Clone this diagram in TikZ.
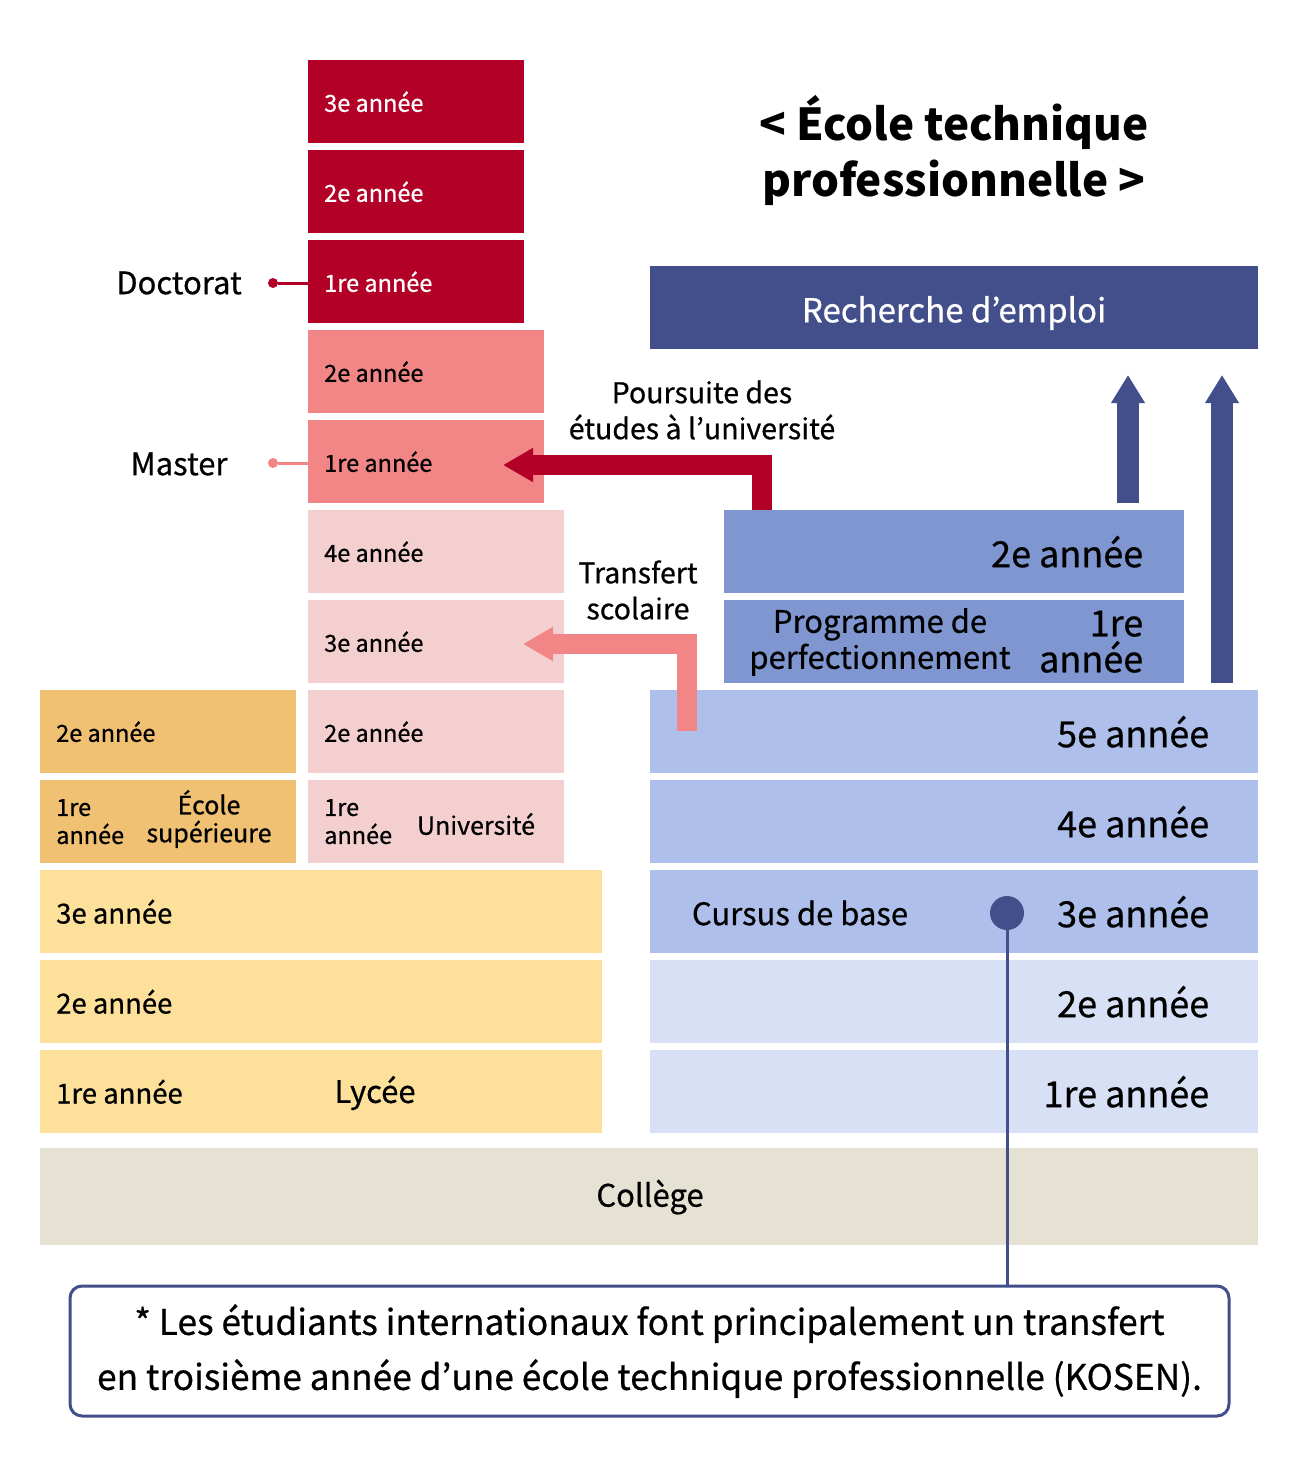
\documentclass[tikz,border=0pt]{standalone}
\usepackage{fontspec}
\setmainfont{Noto Sans CJK JP}[CharacterWidth=Proportional,UprightFeatures={FakeBold=0.6}]
\usetikzlibrary{positioning,arrows.meta}

\definecolor{docred}{HTML}{B30027}
\definecolor{mastpink}{HTML}{F28585}
\definecolor{unipink}{HTML}{F4CFD0}
\definecolor{supgold}{HTML}{F0C172}
\definecolor{lycyel}{HTML}{FDE19B}
\definecolor{colgrey}{HTML}{E6E2D3}
\definecolor{kosmid}{HTML}{AEBFEB}
\definecolor{koslight}{HTML}{D8E0F5}
\definecolor{advblue}{HTML}{7F96D0}
\definecolor{navy}{HTML}{434F8B}

\tikzset{
  yearbox/.style={rectangle,anchor=north west,inner sep=0pt,minimum height=83pt},
  smalltxt/.style={inner sep=0pt,font=\fontsize{23.5}{28}\selectfont,align=left},
  midtxt/.style={inner sep=0pt,font=\fontsize{31}{36}\selectfont,align=center},
  bigtxt/.style={inner sep=0pt,font=\fontsize{36}{36}\selectfont,align=right},
  flowarrow/.style={line width=20pt,-{Triangle[width=32pt,length=30pt]}},
  uparrow/.style={navy,line width=22pt,-{Triangle[width=32pt,length=28pt]}}
}

\begin{document}
\begin{tikzpicture}[x=1pt,y=-1pt]
    \useasboundingbox (0,0) rectangle (1298,1478);
    %\draw[help lines] (0,0) grid[step=100] (1298,1478);

    % doctorat
    \node[yearbox,fill=docred,minimum width=216pt] (doc3) at (308,60) {};
    \node[yearbox,fill=docred,minimum width=216pt] (doc2) at (308,150) {};
    \node[yearbox,fill=docred,minimum width=216pt] (doc1) at (308,240) {};
    \node[smalltxt,text=white,right=16pt of doc3.west] {3e année};
    \node[smalltxt,text=white,right=16pt of doc2.west] {2e année};
    \node[smalltxt,text=white,right=16pt of doc1.west] {1re année};

    % master
    \node[yearbox,fill=mastpink,minimum width=236pt] (mas2) at (308,330) {};
    \node[yearbox,fill=mastpink,minimum width=236pt] (mas1) at (308,420) {};
    \node[smalltxt,right=16pt of mas2.west] {2e année};
    \node[smalltxt,right=16pt of mas1.west] {1re année};

    % universite
    \node[yearbox,fill=unipink,minimum width=256pt] (uni4) at (308,510) {};
    \node[yearbox,fill=unipink,minimum width=256pt] (uni3) at (308,600) {};
    \node[yearbox,fill=unipink,minimum width=256pt] (uni2) at (308,690) {};
    \node[yearbox,fill=unipink,minimum width=256pt] (uni1) at (308,780) {};
    \node[smalltxt,right=16pt of uni4.west] {4e année};
    \node[smalltxt,right=16pt of uni3.west] {3e année};
    \node[smalltxt,right=16pt of uni2.west] {2e année};
    \node[smalltxt,right=16pt of uni1.west] {1re\\année};
    \node[smalltxt,font=\fontsize{25}{28}\selectfont,align=center] at (476,824) {Université};

    % ecole superieure
    \node[yearbox,fill=supgold,minimum width=256pt] (sup2) at (40,690) {};
    \node[yearbox,fill=supgold,minimum width=256pt] (sup1) at (40,780) {};
    \node[smalltxt,right=16pt of sup2.west] {2e année};
    \node[smalltxt,right=16pt of sup1.west] {1re\\année};
    \node[smalltxt,font=\fontsize{25}{28}\selectfont,align=center] at (209,819) {École\\supérieure};

    % lycee
    \node[yearbox,fill=lycyel,minimum width=562pt] (lyc3) at (40,870) {};
    \node[yearbox,fill=lycyel,minimum width=562pt] (lyc2) at (40,960) {};
    \node[yearbox,fill=lycyel,minimum width=562pt] (lyc1) at (40,1050) {};
    \node[smalltxt,font=\fontsize{27.5}{30}\selectfont,right=16pt of lyc3.west] {3e année};
    \node[smalltxt,font=\fontsize{27.5}{30}\selectfont,right=16pt of lyc2.west] {2e année};
    \node[smalltxt,font=\fontsize{27.5}{30}\selectfont,right=16pt of lyc1.west] {1re année};
    \node[midtxt] at (375,1093) {Lycée};

    % college
    \node[yearbox,fill=colgrey,minimum width=1218pt,minimum height=97pt] (coll) at (40,1148) {};
    \node[midtxt] at (650,1197) {Collège};

    % kosen
    \node[yearbox,fill=kosmid,minimum width=608pt] (kos5) at (650,690) {};
    \node[yearbox,fill=kosmid,minimum width=608pt] (kos4) at (650,780) {};
    \node[yearbox,fill=kosmid,minimum width=608pt] (kos3) at (650,870) {};
    \node[yearbox,fill=koslight,minimum width=608pt] (kos2) at (650,960) {};
    \node[yearbox,fill=koslight,minimum width=608pt] (kos1) at (650,1050) {};
    \node[bigtxt,left=49pt of kos5.east] {5e année};
    \node[bigtxt,left=49pt of kos4.east] {4e année};
    \node[bigtxt,left=49pt of kos3.east] {3e année};
    \node[bigtxt,left=49pt of kos2.east] {2e année};
    \node[bigtxt,left=49pt of kos1.east] {1re année};
    \node[midtxt] at (800,913) {Cursus de base};

    % perfectionnement
    \node[yearbox,fill=advblue,minimum width=460pt] (adv2) at (724,510) {};
    \node[yearbox,fill=advblue,minimum width=460pt] (adv1) at (724,600) {};
    \node[bigtxt,left=41pt of adv2.east] {2e année};
    \node[bigtxt,left=41pt of adv1.east] {1re\\année};
    \node[midtxt] at (880,642) {Programme de\\perfectionnement};

    % emploi
    \node[yearbox,fill=navy,minimum width=608pt] (job) at (650,266) {};
    \node[midtxt,text=white,font=\fontsize{33}{36}\selectfont] at (954,313) {Recherche d’emploi};

    % title
    \node[inner sep=0pt,align=center,font=\fontsize{44}{56}\selectfont\bfseries] (title) at (954,150)
        {< École technique\\professionnelle >};

    % side labels
    \node[midtxt] (doclbl) at (179,283) {Doctorat};
    \node[midtxt] (maslbl) at (179,464) {Master};
    \node[circle,fill=docred,minimum size=10pt,inner sep=0pt] (docdot) at (273,283) {};
    \node[circle,fill=mastpink,minimum size=10pt,inner sep=0pt] (masdot) at (273,463) {};
    \draw[docred,line width=3pt] (docdot) -- (docdot -| doc1.west);
    \draw[mastpink,line width=3pt] (masdot) -- (masdot -| mas1.west);

    % flows
    \coordinate (redfoot) at (762,510);
    \coordinate (redtip) at (503,465);
    \coordinate (pinkfoot) at (687,731);
    \coordinate (pinktip) at (523,644);
    \draw[flowarrow,docred] (redfoot) |- (redtip);
    \draw[flowarrow,mastpink] (pinkfoot) |- (pinktip);
    \node[midtxt,font=\fontsize{28.5}{36}\selectfont] at (702,410) {Poursuite des\\études à l’université};
    \node[midtxt,font=\fontsize{28.5}{36}\selectfont] at (638,590) {Transfert\\scolaire};

    \coordinate (upfoot1) at (1128,503);
    \coordinate (upfoot2) at (1222,683);
    \draw[uparrow] (upfoot1) -- ++(0,-128);
    \draw[uparrow] (upfoot2) -- ++(0,-308);

    % note
    \node[draw=navy,line width=3pt,rounded corners=12pt,minimum width=1159pt,minimum height=130pt,
          align=center,font=\fontsize{35.3}{55}\selectfont] (note) at (649.5,1351)
        {* Les étudiants internationaux font principalement un transfert\\
         en troisième année d’une école technique professionnelle (KOSEN).};
    \node[circle,fill=navy,minimum size=34pt,inner sep=0pt] (kosdot) at (1007,913) {};
    \draw[navy,line width=3pt] (kosdot) -- (kosdot |- note.north);
\end{tikzpicture}
\end{document}
